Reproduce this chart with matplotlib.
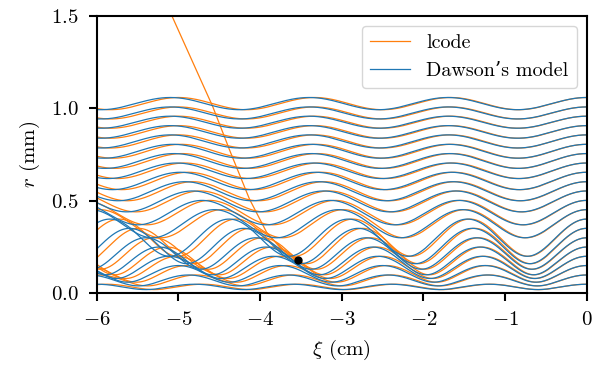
import numpy as np
import matplotlib.pyplot as plt

plt.rcParams['font.family'] = ['cmr10', 'DejaVu Serif']
plt.rcParams['mathtext.fontset'] = 'cm'
plt.rcParams['axes.formatter.use_mathtext'] = True
plt.rcParams['font.size'] = 15

# radius of each electron sheet at xi = 0 (mm), read at the right edge
r_start = [0.049, 0.099, 0.150, 0.200, 0.250, 0.300, 0.351, 0.401, 0.452, 0.502, 0.553,
           0.603, 0.654, 0.704, 0.755, 0.805, 0.856, 0.906, 0.957, 1.007, 1.058]
# first minimum radius reached by each sheet (mm)
r_first_min = [0.020, 0.040, 0.060, 0.080, 0.100, 0.130, 0.160, 0.200, 0.300, 0.370, 0.440,
               0.500, 0.560, 0.620, 0.675, 0.730, 0.785, 0.838, 0.892, 0.942, 0.992]
# oscillation period of each sheet (cm)
period_dawson = [1.20, 1.22, 1.25, 1.28, 1.31, 1.35, 1.40, 1.46, 1.52, 1.57, 1.61,
                 1.64, 1.66, 1.675, 1.685, 1.69, 1.70, 1.70, 1.70, 1.70, 1.70]
# lcode sheets run a little ahead in phase
lcode_speedup = 1.02

# steep orange curve and the first crossing point
break_xi = [-5.08, -4.58, -4.36, -4.13, -3.92, -3.74, -3.54]
break_r = [1.50, 1.01, 0.76, 0.51, 0.33, 0.24, 0.178]
dot_xi, dot_r = -3.54, 0.178

xi_min = -6.0
h = -0.002


# --------------------------------------------------------------------#

def equilibrium_radius(rs, rm):
    # energy conservation of one sheet in the ion column
    rs = np.asarray(rs)
    rm = np.asarray(rm)
    return np.sqrt((rs**2 - rm**2) / (2 * np.log(rs / rm)))


def rk4(r, v, accel, step):
    k1v = accel(r)
    k1r = v
    k2v = accel(r + 0.5 * step * k1r)
    k2r = v + 0.5 * step * k1v
    k3v = accel(r + 0.5 * step * k2r)
    k3r = v + 0.5 * step * k2v
    k4v = accel(r + step * k3r)
    k4r = v + step * k3v
    r_new = r + step / 6 * (k1r + 2 * k2r + 2 * k3r + k4r)
    v_new = v + step / 6 * (k1v + 2 * k2v + 2 * k3v + k4v)
    neg = r_new < 0
    r_new[neg] = -r_new[neg]
    v_new[neg] = -v_new[neg]
    return r_new, v_new


def natural_period(r_s, r0):
    # period of the sheet equation with kp = 1
    r = np.array(r_s, dtype=float)
    v = np.zeros_like(r)
    r0sq = r0**2
    acc = lambda x: -0.5 * (x * x - r0sq) / x
    half = np.full(len(r), np.nan)
    step = 0.002
    s = 0.0
    while np.isnan(half).any() and s < 20:
        r, v = rk4(r, v, acc, step)
        s += step
        done = np.isnan(half) & (v >= 0)
        half[done] = s
    return 2 * half


def sheets(r_s, r0, kp):
    # every sheet on its own in the ion column
    r0sq = r0**2
    r = np.array(r_s, dtype=float)
    v = np.zeros_like(r)
    out = [r.copy()]
    acc = lambda x: -(kp**2 / 2) * (x * x - r0sq) / x
    for _ in range(int(round(xi_min / h))):
        r, v = rk4(r, v, acc, h)
        out.append(r.copy())
    return np.array(out)


r0 = equilibrium_radius(r_start, r_first_min)
kp = natural_period(r_start, r0) / np.asarray(period_dawson)
xi = np.arange(int(round(xi_min / h)) + 1) * h
traj_dawson = sheets(r_start, r0, kp)
traj_lcode = sheets(r_start, r0, kp * lcode_speedup)

fig = plt.figure(figsize=(6.1, 3.7), dpi=100)
ax = fig.add_axes([0.1585, 0.2073, 0.8033, 0.7503])

for i in range(len(r_start)):
    ax.plot(xi, traj_lcode[:, i], color='#ff7f0e', lw=0.9,
            label='lcode' if i == 0 else None)
ax.plot(break_xi, break_r, color='#ff7f0e', lw=0.9)
for i in range(len(r_start)):
    ax.plot(xi, traj_dawson[:, i], color='#1f77b4', lw=0.9,
            label='Dawson\u2019s model' if i == 0 else None)
ax.plot(dot_xi, dot_r, 'o', color='black', ms=5, zorder=5)

ax.set_xlim(-6, 0)
ax.set_ylim(0, 1.5)
ax.set_xticks([-6, -5, -4, -3, -2, -1, 0])
ax.set_yticks([0.0, 0.5, 1.0, 1.5])
ax.set_xlabel(r'$\xi$ (cm)', labelpad=6)
ax.set_ylabel(r'$r$ (mm)', labelpad=6)
for s in ax.spines.values():
    s.set_linewidth(1.5)
ax.tick_params(width=1.5, length=6, pad=7)
ax.legend(loc='upper right', fontsize=14.5)

fig.savefig('out.png', dpi=100)
